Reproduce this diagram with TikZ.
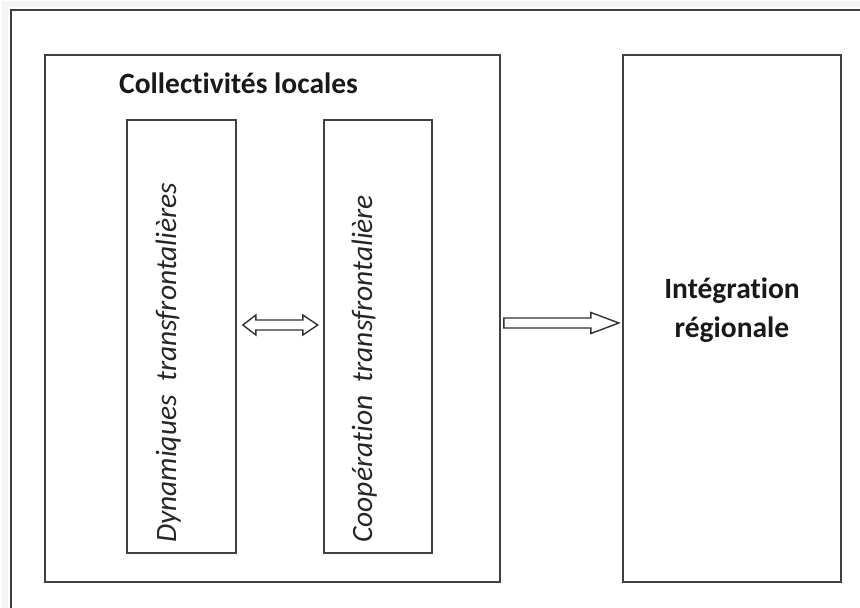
\documentclass[tikz,border=0pt]{standalone}
\usepackage{fontspec}
\setmainfont{Carlito}[Ligatures=NoCommon]
\usetikzlibrary{calc}

\begin{document}
\begin{tikzpicture}[x=1pt,y=-1pt]
        \tikzset{
        cadre/.style={rectangle,draw=black!75,line width=1.7pt,inner sep=0},
        titre/.style={inner sep=0,font=\fontsize{29.5}{39}\selectfont\bfseries,text=black!90},
        vert text/.style={rotate=90,anchor=base west,inner sep=0,font=\fontsize{29.5}{34}\selectfont\itshape,text=black!85},
        fleche/.style={draw=black!80,line width=1.4pt,fill=white,line join=miter}
        }
        \useasboundingbox (0,0) rectangle (860,608);
        % cadre exterieur
        \draw[gray!8,line width=6pt] (5,608) -- (5,4) -- (860,4);
        \draw[black!75,line width=1.7pt] (11,608) -- (11,10) -- (860,10);

        \node[cadre,minimum width=455pt,minimum height=527pt] (cl) at (272.5,318.5) {};
        \node[cadre,minimum width=218pt,minimum height=527pt] (integ) at (732,318.5) {};
        \node[cadre,minimum width=109pt,minimum height=433pt] (dyn) at (181.5,336.5) {};
        \node[cadre,minimum width=108pt,minimum height=433pt] (coop) at (378,336.5) {};

        \node[titre,anchor=base west] (cl text) at (119,93) {Collectivités locales};
        \node[titre,align=center] (integ text) at ($(integ.center)+(0,-8)$) {Intégration\\régionale};
        \node[vert text] (dyn text) at (176,543) {Dynamiques\ \ transfrontalières};
        \node[vert text] (coop text) at (372,543) {Coopération\ \ transfrontalière};

        % fleches
        \draw[fleche] ($(dyn.east |- 0,325)+(6,0)$) -- ++(13,-10) -- ++(0,5) -- ++(47,0)
            -- ++(0,-5) -- ++(15,10) -- ++(-15,10) -- ++(0,-5) -- ++(-47,0) -- ++(0,5) -- cycle;
        \draw[fleche] ($(cl.east |- 0,318)+(3,0)$) -- ++(87,0) -- ++(0,-5.5) -- ++(28,10.5)
            -- ++(-28,10.5) -- ++(0,-5.5) -- ++(-87,0) -- cycle;
\end{tikzpicture}
\end{document}
